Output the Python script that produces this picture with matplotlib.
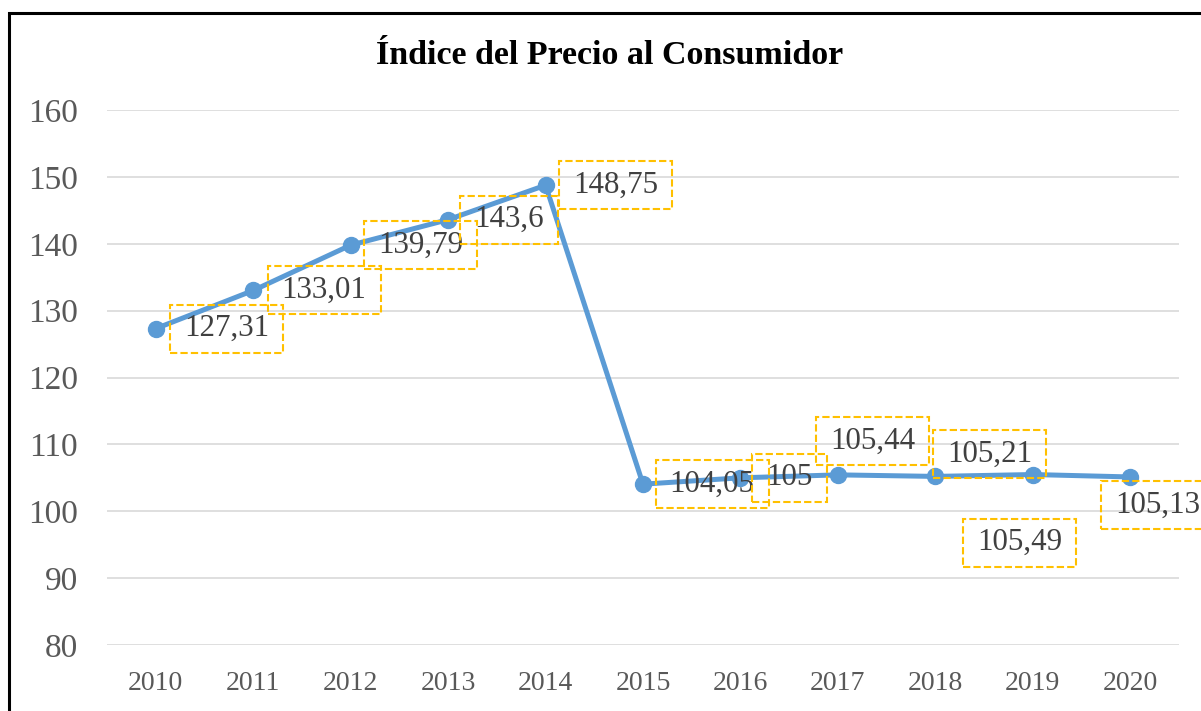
import numpy as np
import matplotlib.pyplot as plt
from matplotlib.patches import Rectangle
from matplotlib.transforms import IdentityTransform

OUTPUT_PLOT_FILE = "out.png"

# datos
years = ["2010", "2011", "2012", "2013", "2014", "2015",
         "2016", "2017", "2018", "2019", "2020"]
ipc = [127.31, 133.01, 139.79, 143.6, 148.75, 104.05,
       105.0, 105.44, 105.21, 105.49, 105.13]
# etiquetas tal como aparecen (coma decimal)
labels = ["127,31", "133,01", "139,79", "143,6", "148,75", "104,05",
          "105", "105,44", "105,21", "105,49", "105,13"]
# desplazamiento de cada etiqueta respecto a su punto (pixeles)
label_offsets = [(71, 0), (71, 0), (70, 0), (61, 0), (70, 0), (69, 0),
                 (49, 0), (35, 34), (54, 22), (-13, -68), (27, -28)]

LINE_COLOR = "#5B9BD5"
BOX_COLOR = "#FFC000"
SERIF = ["Liberation Serif", "DejaVu Serif"]


def plot_ipc():
    fig = plt.figure(figsize=(12.01, 7.11), dpi=100)
    ax = fig.add_axes([107 / 1201, 1 - 645 / 711, 1072 / 1201, 535 / 711])

    x = np.arange(len(years))
    ax.plot(x, ipc, color=LINE_COLOR, lw=3.6, marker="o", ms=11.5,
            solid_capstyle="round", zorder=3)

    textos = []
    for xi, yi, lab, off in zip(x, ipc, labels, label_offsets):
        t = ax.annotate(lab, (xi, yi), xytext=off, textcoords="offset pixels",
                        ha="center", va="center", fontsize=22.3, family=SERIF,
                        color="#404040", zorder=4, annotation_clip=False)
        textos.append(t)

    ax.set_xlim(-0.5, len(years) - 0.5)
    ax.set_ylim(80, 160)
    ax.set_yticks(np.arange(80, 161, 10))
    ax.set_xticks(x)
    ax.set_xticklabels(years)
    ax.grid(axis="y", color="#D9D9D9", lw=1.2)
    ax.set_axisbelow(True)
    for s in ax.spines.values():
        s.set_visible(False)
    ax.tick_params(axis="y", length=0, pad=21, labelsize=24, labelcolor="#595959")
    ax.tick_params(axis="x", length=0, pad=19, labelsize=20, labelcolor="#595959")
    for t in ax.get_xticklabels() + ax.get_yticklabels():
        t.set_family(SERIF)

    fig.text(610 / 1201, 1 - 56 / 711, "Índice del Precio al Consumidor",
             ha="center", va="center", fontsize=24.5, fontweight="bold",
             family=SERIF, color="black")

    # cajas punteadas alrededor de las etiquetas (14 px a los lados, 48 px de alto)
    fig.canvas.draw()
    renderer = fig.canvas.get_renderer()
    for t in textos:
        bb = t.get_window_extent(renderer)
        w = bb.width + 28
        h = 48
        cx = (bb.x0 + bb.x1) / 2
        cy = (bb.y0 + bb.y1) / 2
        fig.patches.append(Rectangle((cx - w / 2, cy - h / 2), w, h,
                                     transform=IdentityTransform(), fill=False,
                                     ec=BOX_COLOR, lw=1.5, ls=(0, (3.5, 1.5)),
                                     zorder=5))

    # marco exterior
    fig.patches.append(Rectangle((9 / 1201, -0.1), 1.2, 1 - 13 / 711 + 0.1,
                                 transform=fig.transFigure, fill=False,
                                 ec="black", lw=2.2))

    fig.savefig(OUTPUT_PLOT_FILE, dpi=100)


def main():
    plot_ipc()


if __name__ == "__main__":
    main()
